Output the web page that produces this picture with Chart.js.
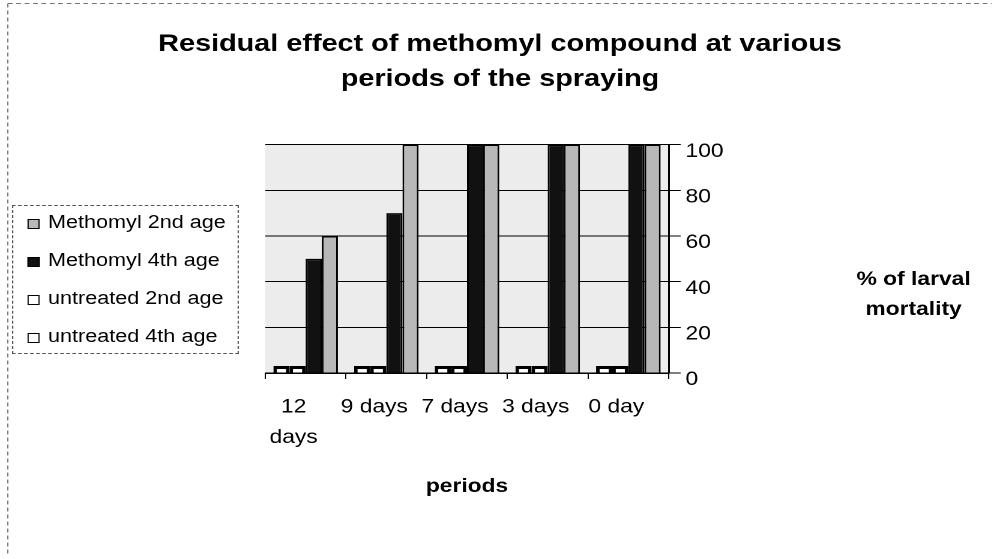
<!DOCTYPE html>
<html>
<head>
<meta charset="utf-8">
<script src="https://cdn.jsdelivr.net/npm/chart.js@4.4.1/dist/chart.umd.min.js"></script>
<style>
html, body { margin: 0; padding: 0; background: #fff; overflow: hidden; }
/* the scanned original is stretched sideways, so the chart is drawn narrow and widened */
#wrap { position: relative; width: 833px; height: 559px; transform: scaleX(1.2005); transform-origin: 0 0; }
#legend {
	position: absolute; left: 10px; top: 205px; width: 189px; height: 149px;
	border: 1px dashed #555; box-sizing: border-box;
	font-family: 'Liberation Sans', Arial, sans-serif; font-size: 18px; color: #000;
}
#legend ul { list-style: none; margin: -3px 0 0 0; padding: 0; }
#legend li { height: 38px; line-height: 38px; white-space: nowrap; }
#legend span.box {
	display: inline-block; width: 10px; height: 10px; box-sizing: border-box;
	margin: 0 7px 0 12px; vertical-align: -1px;
}
</style>
</head>
<body>
<div id="wrap"><canvas id="chart"></canvas><div id="legend"></div></div>
<script>
const periods = [["12", "days"], "9 days", "7 days", "3 days", "0 day"];
const methomyl2nd = [60, 100, 100, 100, 100];
const methomyl4th = [50, 70, 100, 100, 100];
const untreated2nd = [0, 0, 0, 0, 0];
const untreated4th = [0, 0, 0, 0, 0];
const mortalityTicks = [0, 20, 40, 60, 80, 100];

Chart.defaults.font.family = "'Liberation Sans', Arial, sans-serif";
Chart.defaults.color = "#000";

const wallPlugin = {
	id: "wall",
	beforeDraw(chart) {
		const {ctx, chartArea} = chart;
		ctx.save();
		ctx.fillStyle = "#ececec";
		ctx.fillRect(chartArea.left, chartArea.top, chartArea.right - chartArea.left, chartArea.bottom - chartArea.top);
		ctx.restore();
	}
};

// legend written as html, from the chart's own legend items
const htmlLegendPlugin = {
	id: "htmlLegend",
	afterUpdate(chart) {
		const container = document.getElementById("legend");
		const list = document.createElement("ul");
		const items = chart.options.plugins.legend.labels.generateLabels(chart)
			.sort((a, b) => a.datasetIndex - b.datasetIndex);
		items.forEach(item => {
			const li = document.createElement("li");
			const box = document.createElement("span");
			box.className = "box";
			box.style.background = item.fillStyle;
			box.style.border = "1.5px solid " + item.strokeStyle;
			li.appendChild(box);
			li.appendChild(document.createTextNode(item.text));
			list.appendChild(li);
		});
		container.innerHTML = "";
		container.appendChild(list);
	}
};

const extrasPlugin = {
	id: "extras",
	afterDraw(chart) {
		const ctx = chart.ctx;
		const area = chart.chartArea;
		ctx.save();
		// outer dashed frame, top and left
		ctx.strokeStyle = "#777";
		ctx.lineWidth = 1;
		ctx.setLineDash([4, 3]);
		ctx.beginPath();
		ctx.moveTo(6.5, 3.5);
		ctx.lineTo(826, 3.5);
		ctx.moveTo(6.5, 3.5);
		ctx.lineTo(6.5, 556);
		ctx.stroke();
		ctx.setLineDash([]);
		// y axis title, not rotated
		ctx.fillStyle = "#000";
		ctx.font = "bold 19px 'Liberation Sans', Arial, sans-serif";
		ctx.textAlign = "center";
		ctx.textBaseline = "middle";
		const titleX = chart.scales.y.right - 72;
		const middle = (area.top + area.bottom) / 2;
		ctx.fillText("% of larval", titleX, middle + 21);
		ctx.fillText("mortality", titleX, middle + 51);
		ctx.restore();
	}
};

function drawChart() {
	const canvas = document.getElementById("chart");
	const context = canvas.getContext("2d");
	const datasets = [
		{
			label: "Methomyl 2nd age",
			data: methomyl2nd,
			backgroundColor: "#b8b8b8",
			borderColor: "#000",
			borderWidth: 1.5,
			order: 4
		},
		{
			label: "Methomyl 4th age",
			data: methomyl4th,
			backgroundColor: "#111",
			borderColor: "#000",
			borderWidth: 1.5,
			order: 3
		},
		{
			label: "untreated 2nd age",
			data: untreated2nd,
			backgroundColor: "#fff",
			borderColor: "#000",
			borderWidth: 3,
			minBarLength: 7,
			order: 1
		},
		{
			label: "untreated 4th age",
			data: untreated4th,
			backgroundColor: "#fff",
			borderColor: "#000",
			borderWidth: 3,
			minBarLength: 7,
			order: 2
		}
	];
	const options = {
		type: "bar",
		data: {
			labels: periods,
			datasets: datasets
		},
		options: {
			responsive: true,
			maintainAspectRatio: false,
			animation: false,
			devicePixelRatio: 2,
			categoryPercentage: 0.8,
			barPercentage: 1.0,
			layout: {
				padding: 0
			},
			plugins: {
				title: {
					display: true,
					text: ["Residual effect of methomyl compound at various", "periods of the spraying"],
					font: {size: 24, weight: "bold", lineHeight: 1.45},
					color: "#000",
					padding: {top: 27, bottom: 48}
				},
				legend: {
					display: false
				},
				tooltip: {enabled: false}
			},
			scales: {
				x: {
					grid: {display: true, drawOnChartArea: false, tickLength: 6, color: "#000"},
					border: {color: "#000", width: 1.5},
					ticks: {
						font: {size: 19, lineHeight: 1.6},
						color: "#000",
						padding: 13,
						labelOffset: -10,
						maxRotation: 0,
						autoSkip: false
					},
					title: {
						display: true,
						text: "periods",
						font: {size: 19, weight: "bold"},
						color: "#000",
						padding: {top: 0, bottom: 61}
					},
					afterFit: scale => { scale.height = 186; }
				},
				y: {
					position: "right",
					min: 0,
					max: 100,
					afterBuildTicks: scale => { scale.ticks = mortalityTicks.map(v => ({value: v})); },
					grid: {color: "#000", lineWidth: 1, tickLength: 10},
					border: {color: "#000", width: 1.5},
					ticks: {
						font: {size: 19},
						color: "#000",
						padding: 4,
						labelOffset: 7
					},
					afterFit: scale => { scale.width = 276; }
				},
				// empty left axis that keeps room for the legend
				yl: {
					type: "linear",
					position: "left",
					display: true,
					grid: {display: false},
					border: {display: false},
					ticks: {display: false},
					afterFit: scale => { scale.width = 221; }
				}
			}
		},
		plugins: [wallPlugin, htmlLegendPlugin, extrasPlugin]
	};
	new Chart(context, options);
}

document.addEventListener("DOMContentLoaded", _ => {
	drawChart();
});
</script>
</body>
</html>
